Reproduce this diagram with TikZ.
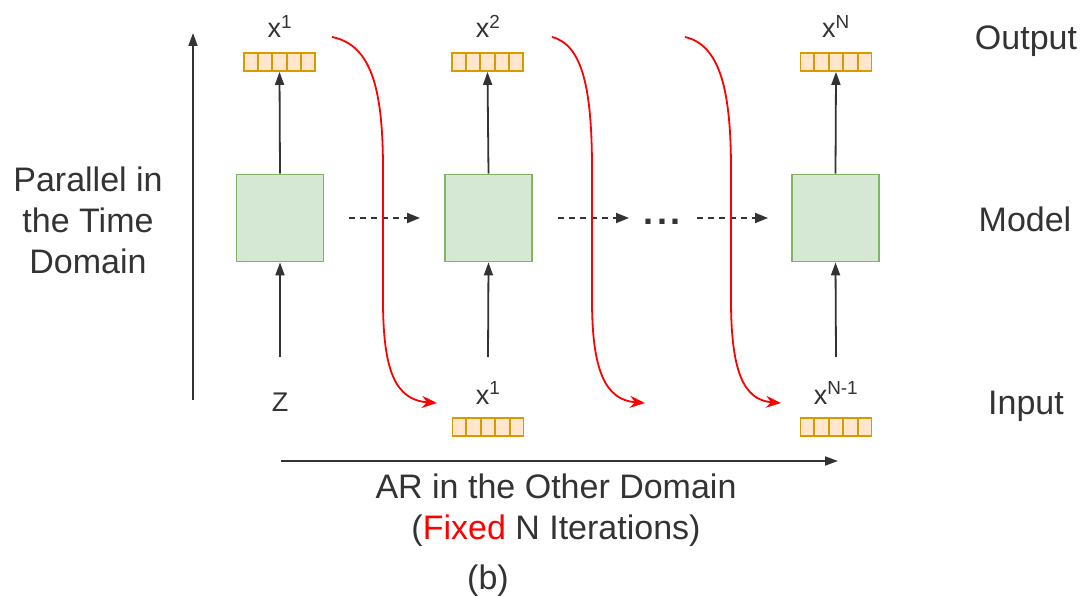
\documentclass[tikz,border=0pt]{standalone}
\usepackage{fontspec}
\setmainfont{Liberation Sans}
\usetikzlibrary{arrows.meta,calc}
\definecolor{ink}{HTML}{333333}
\definecolor{vecfill}{HTML}{FFE6CC}
\definecolor{vecline}{HTML}{D79B00}
\definecolor{modfill}{HTML}{D5E8D4}
\definecolor{modline}{HTML}{82B366}
\tikzset{
  big/.style={text=ink, font=\fontsize{34}{41}\selectfont, inner sep=0pt, align=center},
  lbl/.style={text=ink, font=\fontsize{27}{32}\selectfont, inner sep=0pt},
  vec/.style={draw=vecline, fill=vecfill, line width=1.8pt, minimum width=71pt, minimum height=18pt, inner sep=0pt},
  model/.style={draw=modline, fill=modfill, line width=1.8pt, minimum width=87pt, minimum height=87pt, inner sep=0pt},
  flow/.style={draw=ink, line width=1.8pt, -{Triangle[length=13pt,width=9pt]}},
  pass/.style={draw=ink, line width=1.8pt, dashed, dash pattern=on 6pt off 5pt, -{Triangle[length=13pt,width=10pt]}},
  feed/.style={draw=red, line width=1.8pt, -{Stealth[length=15pt,width=12pt,inset=5pt]}},
}
% five-cell vector
\newcommand{\cells}[1]{%
  \foreach \k in {1,...,4}
    \draw[vecline, line width=1.8pt] ($(#1.north west)!\k/5!(#1.north east)$) -- ($(#1.south west)!\k/5!(#1.south east)$);}
\begin{document}
\begin{tikzpicture}[x=1pt,y=-1pt]
\useasboundingbox (0,0) rectangle (1081,596);

% models
\node[model] (m1) at (280,218) {};
\node[model] (m2) at (488.5,218) {};
\node[model] (m3) at (835.5,218) {};

% output vectors
\node[vec] (o1) at (279.5,62) {};
\node[vec] (o2) at (487.5,62) {};
\node[vec] (o3) at (836,62) {};
\foreach \n in {o1,o2,o3} {\cells{\n}}
\node[lbl, anchor=base] (ol1) at (280,38) {x\textsuperscript{1}};
\node[lbl, anchor=base] (ol2) at (488,38) {x\textsuperscript{2}};
\node[lbl, anchor=base] (ol3) at (836,38) {x\textsuperscript{N}};

% input vectors
\node[vec] (i2) at (488,427) {};
\node[vec] (i3) at (836,427) {};
\foreach \n in {i2,i3} {\cells{\n}}
\node[lbl, anchor=base] (z) at (280,411) {Z};
\node[lbl, anchor=base] (il2) at (488,404) {x\textsuperscript{1}};
\node[lbl, anchor=base] (il3) at (836,404) {x\textsuperscript{N-1}};
\coordinate (zt) at (280,357);
\coordinate (i2t) at (488,357);
\coordinate (i3t) at (836,357);

% vertical data flow
\draw[flow] (zt) -- (m1.south);
\draw[flow] (i2t) -- (m2.south);
\draw[flow] (i3t) -- (m3.south);
\draw[flow] (m1.north) -- (o1.south);
\draw[flow] (m2.north) -- (o2.south);
\draw[flow] (m3.north) -- (o3.south);

% state passing between iterations
\coordinate (p1a) at (349,218); \coordinate (p1b) at (420,218);
\coordinate (p2a) at (558,218); \coordinate (p2b) at (629,218);
\coordinate (p3a) at (697,218); \coordinate (p3b) at (768,218);
\draw[pass] (p1a) -- (p1b);
\draw[pass] (p2a) -- (p2b);
\draw[pass] (p3a) -- (p3b);
\node[text=ink, font=\fontsize{36}{41}\selectfont\bfseries, inner sep=0pt, anchor=base] (dots) at (662,224) {.\hspace{3.5pt}.\hspace{3.5pt}.};

% outputs fed back as next inputs
\coordinate (r1s) at (332,37);  \coordinate (r1e) at (437,403);
\coordinate (r2s) at (552,37);  \coordinate (r2e) at (645,403);
\coordinate (r3s) at (685,37);  \coordinate (r3e) at (781,403);
\draw[feed] (r1s) .. controls (372,45) and (383,90) .. (383,170) -- (383,300)
  .. controls (383,370) and (395,400) .. (r1e);
\draw[feed] (r2s) .. controls (583,45) and (592,90) .. (592,170) -- (592,300)
  .. controls (592,370) and (605,400) .. (r2e);
\draw[feed] (r3s) .. controls (720,45) and (731,90) .. (731,170) -- (731,300)
  .. controls (731,370) and (743,400) .. (r3e);

% axes
\coordinate (ta) at (193,400); \coordinate (tb) at (193,33);
\draw[flow] (ta) -- (tb);
\coordinate (ha) at (281,461); \coordinate (hb) at (838,461);
\draw[flow] (ha) -- (hb);

% captions
\node[big] (par) at (88,220) {Parallel in\\the Time\\Domain};
\node[big, anchor=base] (ar) at (556,498) {AR in the Other Domain};
\node[big, anchor=base] (fix) at (556,539) {(\textcolor{red}{Fixed} N Iterations)};
\node[big, anchor=base] (b) at (488,589) {(b)};
\node[big, anchor=base] (out) at (1026,50) {Output};
\node[big] (mod) at (1025,219) {Model};
\node[big, anchor=base] (inp) at (1026,414) {Input};
\end{tikzpicture}
\end{document}
